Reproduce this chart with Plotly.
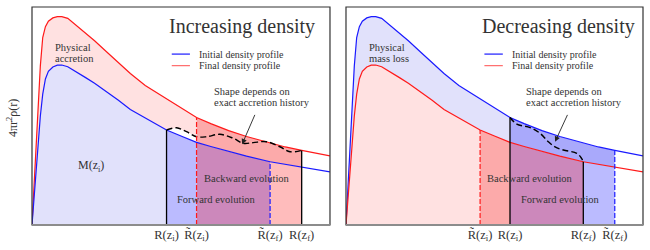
import plotly.graph_objects as go

# ---- data (arbitrary units: r in 0..10, 4πr²ρ in 0..10) ----
r = [0, 0.10, 0.20, 0.28, 0.36, 0.45, 0.55, 0.70, 0.85, 1.0, 1.2, 1.5, 1.8, 2.1, 2.5, 2.9,
     3.3, 3.8, 4.2, 4.515, 5.0, 5.522, 6.0, 6.6, 7.2, 7.99, 8.5, 9.05, 9.5, 10.0]
upper = [0, 2.8, 5.1, 7.3, 8.6, 9.1, 9.35, 9.5, 9.56, 9.56, 9.48, 9.15, 8.8, 8.45, 7.95, 7.45,
         6.95, 6.4, 6.05, 5.8, 5.35, 4.93, 4.65, 4.33, 4.06, 3.76, 3.58, 3.42, 3.3, 3.17]
lower = [0, 1.8, 3.6, 5.0, 6.0, 6.7, 7.05, 7.25, 7.33, 7.34, 7.26, 7.02, 6.76, 6.5, 6.12, 5.72,
         5.3, 4.9, 4.6, 4.36, 4.08, 3.79, 3.6, 3.37, 3.16, 2.9, 2.78, 2.65, 2.55, 2.44]

marks = [4.515, 5.522, 7.99, 9.05]
left_labels = ["R(z<sub>i</sub>)", "R\u0303(z<sub>i</sub>)", "R\u0303(z<sub>f</sub>)", "R(z<sub>f</sub>)"]
right_labels = ["R\u0303(z<sub>i</sub>)", "R(z<sub>i</sub>)", "R(z<sub>f</sub>)", "R\u0303(z<sub>f</sub>)"]

left_dash_r = [4.515, 4.851, 5.186, 5.522, 5.858, 6.305, 6.752, 7.088, 7.424, 7.874, 8.321, 8.657, 9.05]
left_dash_v = [4.36, 4.46, 4.28, 4.05, 4.05, 4.16, 3.98, 3.75, 3.78, 3.82, 3.59, 3.36, 3.42]
right_dash_r = [5.522, 5.75, 6.20, 6.53, 6.81, 7.04, 7.32, 7.77, 7.93, 7.99]
right_dash_v = [4.93, 4.63, 4.47, 4.21, 3.82, 3.58, 3.44, 3.29, 3.06, 2.90]

BLUE = "#1a1aff"
RED = "#ff1a1a"
FONT = "Liberation Serif, DejaVu Serif, serif"
TXT = "#333333"

fig = go.Figure()


def seg(curve, a, b):
    xs = [x for x in r if a <= x <= b]
    ys = [curve[r.index(x)] for x in xs]
    return xs, ys


def val(curve, x):
    return curve[r.index(x)]


def under(curve, a, b, color, ax):
    xs, ys = seg(curve, a, b)
    fig.add_trace(go.Scatter(x=[a] + xs + [b], y=[0] + ys + [0], fill="toself", fillcolor=color,
                             mode="none", hoverinfo="skip", showlegend=False,
                             xaxis=ax, yaxis=ax.replace("x", "y")))


def between(lo, hi, a, b, color, ax):
    xh, yh = seg(hi, a, b)
    xl, yl = seg(lo, a, b)
    fig.add_trace(go.Scatter(x=xh + xl[::-1], y=yh + yl[::-1], fill="toself", fillcolor=color,
                             mode="none", hoverinfo="skip", showlegend=False,
                             xaxis=ax, yaxis=ax.replace("x", "y")))


def line(xs, ys, color, ax, width=1.2, dash="solid", shape="linear"):
    fig.add_trace(go.Scatter(x=xs, y=ys, mode="lines", line=dict(color=color, width=width, dash=dash, shape=shape),
                             hoverinfo="skip", showlegend=False, xaxis=ax, yaxis=ax.replace("x", "y")))


LB = "#e1e1fb"   # light blue
LP = "#ffe1e1"   # light pink
FB = "#bbbbff"   # forward blue
FB2 = "#a9a9fb"
SA = "#ffbcbc"   # salmon
SA2 = "#fcaaaa"
PU = "#cc88bb"   # purple

a, b, c, d = marks

# ---------------- left panel: increasing density ----------------
ax = "x"
under(lower, 0, a, LB, ax)
between(lower, upper, 0, b, LP, ax)
xl, yl = seg(lower, a, b)
wx = [x for x in left_dash_r if x <= b]
wy = left_dash_v[:len(wx)]
fig.add_trace(go.Scatter(x=wx + xl[::-1], y=wy + yl[::-1], fill="toself", fillcolor="white",
                         mode="none", hoverinfo="skip", showlegend=False, xaxis="x", yaxis="y"))
under(lower, a, b, FB, ax)
under(lower, b, c, PU, ax)
under(lower, c, d, SA, ax)
between(lower, upper, b, d, SA2, ax)
line(r, upper, RED, ax)
line(r, lower, BLUE, ax)
line(left_dash_r, left_dash_v, "black", ax, width=1.4, dash="6px,3px", shape="spline")
line([a, a], [0, val(lower, a)], "black", ax, width=1.3)
line([b, b], [0, val(upper, b)], RED, ax, width=1.2, dash="5px,2px")
line([c, c], [0, val(lower, c)], BLUE, ax, width=1.2, dash="5px,2px")
line([d, d], [0, val(upper, d)], "black", ax, width=1.3)

# ---------------- right panel: decreasing density ----------------
ax = "x2"
under(lower, 0, a, LP, ax)
between(lower, upper, 0, b, LB, ax)
under(lower, a, b, SA2, ax)
under(lower, b, c, PU, ax)
under(lower, c, d, FB, ax)
between(lower, upper, b, d, FB2, ax)
line(r, upper, BLUE, ax)
line(r, lower, RED, ax)
line(right_dash_r, right_dash_v, "black", ax, width=1.4, dash="6px,3px", shape="spline")
line([a, a], [0, val(lower, a)], RED, ax, width=1.2, dash="5px,2px")
line([b, b], [0, val(upper, b)], "black", ax, width=1.3)
line([c, c], [0, val(lower, c)], "black", ax, width=1.3)
line([d, d], [0, val(upper, d)], BLUE, ax, width=1.2, dash="5px,2px")

# ---------------- layout ----------------
axis_common = dict(range=[0, 10], showgrid=False, zeroline=False, fixedrange=True, automargin=False)
fig.update_layout(
    width=650, height=250,
    margin=dict(l=32, r=7, t=7, b=25, autoexpand=False),
    paper_bgcolor="white", plot_bgcolor="white",
    font=dict(family=FONT, color=TXT, size=11),
    xaxis=dict(domain=[0, 0.4877], tickvals=marks, ticktext=left_labels, ticks="", anchor="y",
               tickfont=dict(size=12.5, family=FONT, color=TXT), **axis_common),
    xaxis2=dict(domain=[0.5139, 1], tickvals=marks, ticktext=right_labels, ticks="", anchor="y2",
                tickfont=dict(size=12.5, family=FONT, color=TXT), **axis_common),
    yaxis=dict(domain=[0, 1], showticklabels=False, anchor="x", **axis_common),
    yaxis2=dict(domain=[0, 1], showticklabels=False, anchor="x2", **axis_common),
)

shapes = []
for xr in ["x", "x2"]:
    yr = xr.replace("x", "y")
    shapes.append(dict(type="rect", xref=xr + " domain", yref=yr + " domain", x0=0, x1=1, y0=0, y1=1,
                       line=dict(color="#333333", width=1.2), layer="above"))
    shapes.append(dict(type="line", xref=xr + " domain", yref=yr + " domain", x0=0, x1=1, y0=0, y1=0,
                       line=dict(color="#8c8c8c", width=2), layer="above"))

annotations = []


def text(xr, x, y, s, size=10.5, anchor="center"):
    annotations.append(dict(xref=xr, yref=xr.replace("x", "y"), x=x, y=y, text=s, showarrow=False,
                            xanchor=anchor, yanchor="middle", font=dict(family=FONT, size=size, color=TXT)))


for xr, lx0, lx1, tx, c_init, c_fin in [("x", 4.69, 5.30, 5.53, BLUE, "#ff6a6a"),
                                         ("x2", 4.66, 5.28, 5.52, BLUE, "#ff6a6a")]:
    yr = xr.replace("x", "y")
    shapes.append(dict(type="line", xref=xr, yref=yr, x0=lx0, x1=lx1, y0=7.84, y1=7.84,
                       line=dict(color=c_init, width=1.2)))
    shapes.append(dict(type="line", xref=xr, yref=yr, x0=lx0, x1=lx1, y0=7.31, y1=7.31,
                       line=dict(color=c_fin, width=1.2)))
    text(xr, tx, 7.84, "Initial density profile", size=10, anchor="left")
    text(xr, tx, 7.31, "Final density profile", size=10, anchor="left")

text("x", 7.04, 9.1, "Increasing density", size=20)
text("x", 0.70, 8.13, "Physical", anchor="left")
text("x", 0.70, 7.62, "accretion", anchor="left")
text("x", 1.99, 2.71, "M(z<sub>i</sub>)", size=12)
text("x", 6.04, 6.14, "Shape depends on", anchor="left")
text("x", 6.04, 5.64, "exact accretion history", anchor="left")
text("x", 7.21, 2.14, "Backward evolution")
text("x", 6.20, 1.15, "Forward evolution")

text("x2", 7.17, 9.1, "Decreasing density", size=20)
text("x2", 0.70, 8.13, "Physical", anchor="left")
text("x2", 0.70, 7.62, "mass loss", anchor="left")
text("x2", 5.99, 6.14, "Shape depends on", anchor="left")
text("x2", 5.99, 5.64, "exact accretion history", anchor="left")
text("x2", 6.20, 2.14, "Backward evolution")
text("x2", 7.21, 1.15, "Forward evolution")

for xr, x0, y0, x1, y1 in [("x", 7.50, 5.12, 7.05, 3.70), ("x2", 7.48, 5.12, 7.04, 3.82)]:
    yr = xr.replace("x", "y")
    annotations.append(dict(xref=xr, yref=yr, axref=xr, ayref=yr, x=x1, y=y1, ax=x0, ay=y0, text="",
                            showarrow=True, arrowhead=2, arrowsize=1.2, arrowwidth=0.9, arrowcolor="#222222"))

annotations.append(dict(xref="paper", yref="paper", x=-0.033, y=0.49, text="4\u03c0r<sup>2</sup>\u03c1(r)",
                        showarrow=False, textangle=-90, xanchor="center", yanchor="middle",
                        font=dict(family=FONT, size=12, color=TXT)))

fig.update_layout(shapes=shapes, annotations=annotations)
fig.write_html("out.html", config={"displayModeBar": False},
               post_script="document.body.style.margin='0px';document.body.style.overflow='hidden';")
